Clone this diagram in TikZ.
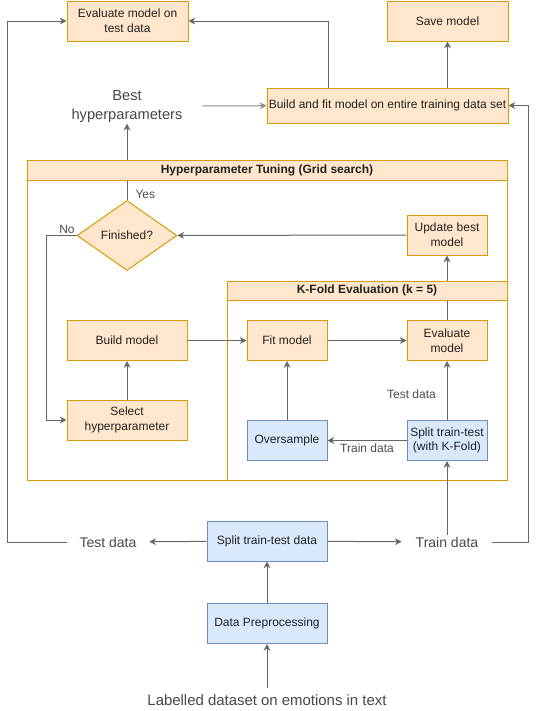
\documentclass[tikz,border=0pt]{standalone}
\usepackage{fontspec}
\setmainfont{Liberation Sans}
\usetikzlibrary{arrows.meta,shapes.geometric}
\definecolor{orfill}{HTML}{FFE6CC}
\definecolor{ordraw}{HTML}{D79B00}
\definecolor{blfill}{HTML}{DAE8FC}
\definecolor{bldraw}{HTML}{6C8EBF}
\definecolor{edge}{HTML}{666666}
\definecolor{txt}{HTML}{222222}
\begin{document}
\begin{tikzpicture}[x=0.75pt,y=-0.75pt,
  every node/.style={font=\fontsize{9}{11}\selectfont,text=txt,align=center,inner sep=1pt},
  obox/.style={draw=ordraw,fill=orfill,line width=0.75pt,minimum width=90pt,minimum height=30pt},
  bbox/.style={draw=bldraw,fill=blfill,line width=0.75pt,minimum width=90pt,minimum height=30pt},
  frame/.style={draw=ordraw,line width=0.75pt},
  head/.style={obox,font=\fontsize{9}{11}\selectfont\bfseries},
  big/.style={font=\fontsize{10.5}{14}\selectfont,text=black!72},
  lbl/.style={text=black!70},
  arr/.style={draw=edge,line width=0.75pt,-{Stealth[length=5pt,width=5pt,inset=1.5pt]}}]
\useasboundingbox (0,0) rectangle (536,711);
\node[obox,minimum width=90.75pt] (evaltest) at (127.5,21) {Evaluate model on\\test data};
\node[obox,minimum width=90.75pt] (save) at (447.5,21) {Save model};
\node[big,minimum width=112.5pt,font=\fontsize{11}{14.25}\selectfont] (best) at (127,106) {Best\\hyperparameters};
\node[obox,minimum width=180.75pt,minimum height=26.25pt] (buildfit) at (387.5,105.5) {Build and fit model on entire training data set};
\node[frame,minimum width=360pt,minimum height=240pt] (tuning) at (267,320) {};
\node[frame,minimum width=210pt,minimum height=149.25pt] (kfold) at (367,380.5) {};
\node[diamond,draw=ordraw,fill=orfill,line width=0.75pt,minimum width=75pt,minimum height=52.5pt,inner sep=0pt] (finished) at (127,235.5) {Finished?};
\node[obox,minimum width=60pt] (update) at (447,235) {Update best\\model};
\node[obox] (build) at (127,340.5) {Build model};
\node[obox,minimum width=60pt] (fit) at (287,340.5) {Fit model};
\node[obox,minimum width=60pt] (evalmodel) at (447,340.5) {Evaluate\\model};
\node[obox] (select) at (127,420) {Select\\hyperparameter};
\node[bbox,minimum width=60pt] (oversample) at (287,440.5) {Oversample};
\node[bbox,minimum width=60pt] (splitk) at (447,440.5) {Split train-test\\(with K-Fold)};
\node[big,minimum width=61.5pt] (testdata) at (108,542) {Test data};
\node[bbox] (splitdata) at (267,541) {Split train-test data};
\node[big,minimum width=67.5pt] (traindata) at (447,542) {Train data};
\node[bbox] (preproc) at (267,623.5) {Data Preprocessing};
\node[big,font=\fontsize{11.2}{14}\selectfont] (labelled) at (267,700) {Labelled dataset on emotions in text};
\draw[arr] ([yshift=4pt]labelled.north) -- (preproc);
\draw[arr] (preproc) -- (splitdata);
\draw[arr] (splitdata) -- (testdata);
\draw[arr] (splitdata) -- (traindata);
\draw[arr] (testdata.west) -- ++(-59.5,0) |- (evaltest);
\draw[arr] (traindata.east) -- ++(36,0) |- (buildfit);
\draw[arr] (traindata) -- (splitk);
\draw[arr] (splitk) -- node[lbl,below=1pt] {Train data} (oversample);
\draw[arr] (splitk) -- node[lbl,left=7pt,pos=0.43] {Test data} (evalmodel);
\draw[arr] (oversample) -- (fit);
\draw[arr] (select) -- (build);
\draw[arr] (build) -- (fit);
\draw[arr] (fit) -- (evalmodel);
\draw[arr] (evalmodel) -- (update);
\draw[arr] (update) -- (finished);
\draw[arr] (finished.west) node[lbl,above left] {No} -- ++(-30,0) |- (select);
\draw[arr] (finished) -- node[lbl,pos=0,above right,xshift=5pt] {Yes} (best);
\draw[arr,draw=edge!75] (best) -- (buildfit);
\draw[arr] (save |- buildfit.north) -- (save);
\draw[arr] ([xshift=-44.6pt]buildfit.north) |- (evaltest);
\node[head,minimum width=360pt,minimum height=15pt] (tuninghead) at (267,170) {Hyperparameter Tuning (Grid search)};
\node[head,minimum width=210pt,minimum height=14.25pt] (kfoldhead) at (367,290.5) {K-Fold Evaluation (k = 5)};
\end{tikzpicture}
\end{document}
